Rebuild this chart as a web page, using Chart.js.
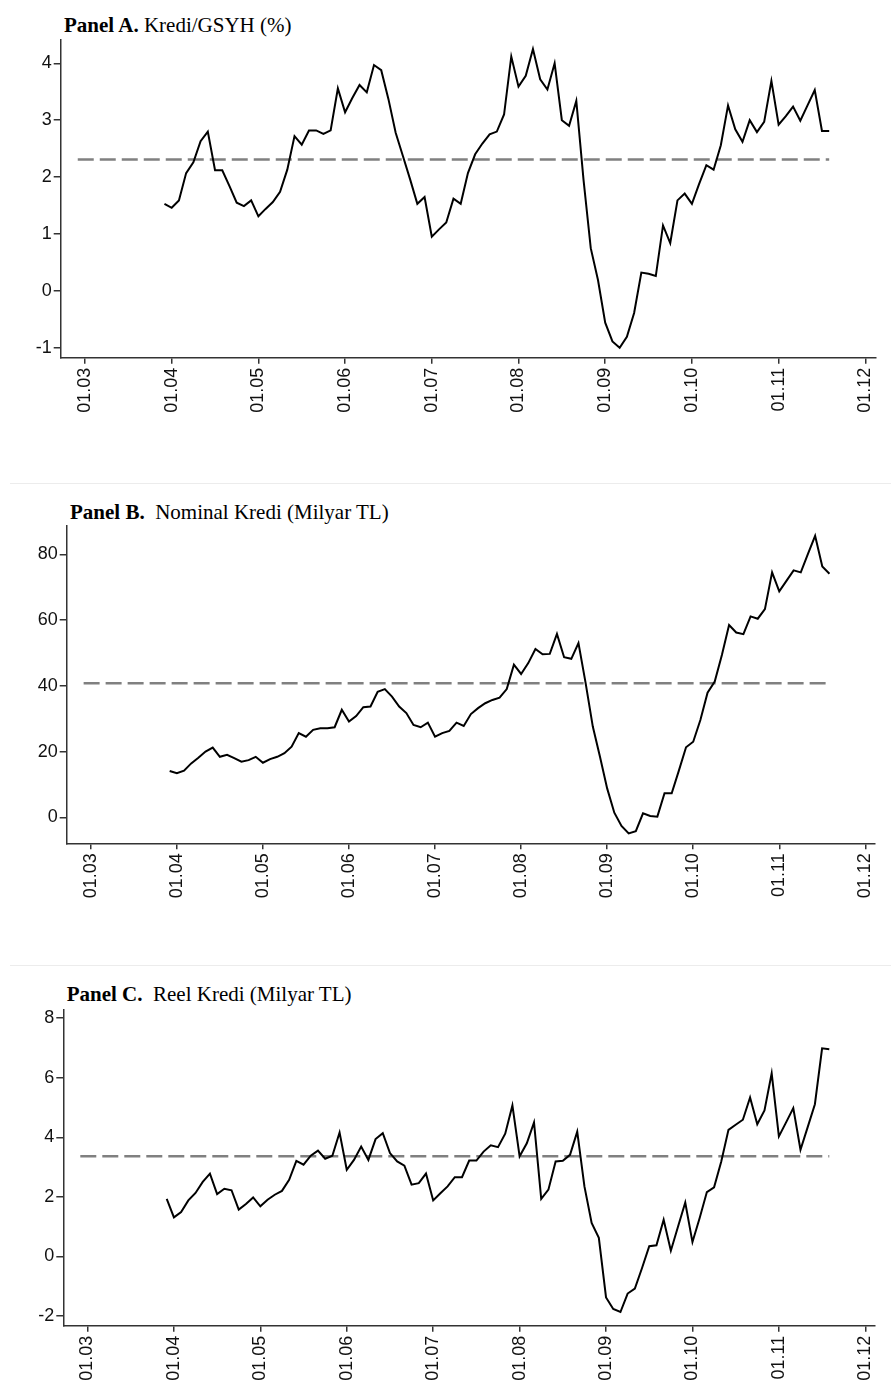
<!DOCTYPE html>
<html>
<head>
<meta charset="utf-8">
<title>Kredi paneli</title>
<script src="https://cdn.jsdelivr.net/npm/chart.js@4.4.1/dist/chart.umd.min.js"></script>
<style>
  html, body { margin: 0; padding: 0; background: #fff; }
  body { width: 891px; height: 1387px; position: relative; overflow: hidden; }
  canvas { position: absolute; left: 0; }
  .title {
    position: absolute;
    font-family: "Liberation Serif", "Times New Roman", serif;
    font-size: 21px;
    line-height: 21px;
    color: #000;
    white-space: pre;
  }
  .sep { position: absolute; left: 10px; right: 0; height: 1px; background: #ececec; }
</style>
</head>
<body>
<div class="title" style="left:64px; top:14.7px;"><b>Panel A.</b> Kredi/GSYH (%)</div>
<div class="sep" style="top:483px;"></div>
<div class="title" style="left:70px; top:501.7px;"><b>Panel B.</b>  Nominal Kredi (Milyar TL)</div>
<div class="sep" style="top:965px;"></div>
<div class="title" style="left:66.7px; top:984.1px;"><b>Panel C.</b>  Reel Kredi (Milyar TL)</div>

<canvas id="chartA" width="891" height="430" style="top:0px;"></canvas>
<canvas id="chartB" width="891" height="430" style="top:485px;"></canvas>
<canvas id="chartC" width="891" height="420" style="top:967px;"></canvas>

<script>
// ------------------------------------------------------------
// Data (monthly, Dec 2003 .. Aug 2011)
// ------------------------------------------------------------
const firstMonth = { year: 2003, month: 12 };
const lastMonth = { year: 2011, month: 8 };

// mean line runs from Dec 2002 to the last observation
const meanFrom = { year: 2002, month: 12 };

const xTickYears = [2003, 2004, 2005, 2006, 2007, 2008, 2009, 2010, 2011, 2012];
const xTickLabels = ["01.03", "01.04", "01.05", "01.06", "01.07", "01.08", "01.09", "01.10", "01.11", "01.12"];

// Panel A – Kredi/GSYH (%)
const krediGsyh = [
  1.53, 1.46, 1.59, 2.07, 2.26, 2.63, 2.80, 2.12, 2.12, 1.84,
  1.55, 1.49, 1.59, 1.31, 1.44, 1.56, 1.74, 2.13, 2.72, 2.57,
  2.82, 2.82, 2.76, 2.82, 3.56, 3.14, 3.39, 3.62, 3.49, 3.97,
  3.88, 3.37, 2.78, 2.37, 1.96, 1.53, 1.65, 0.95, 1.08, 1.20,
  1.62, 1.53, 2.07, 2.40, 2.59, 2.75, 2.80, 3.10, 4.12, 3.59,
  3.78, 4.25, 3.72, 3.54, 4.00, 3.00, 2.90, 3.34, 1.95, 0.75,
  0.19, -0.56, -0.89, -1.00, -0.81, -0.39, 0.32, 0.30, 0.26, 1.15,
  0.84, 1.59, 1.71, 1.53, 1.88, 2.21, 2.13, 2.56, 3.26, 2.84,
  2.62, 3.00, 2.79, 2.97, 3.69, 2.92, 3.07, 3.24, 2.99, 3.26,
  3.53, 2.81, 2.81,
];
const meanA = 2.31;
const yTicksA = [-1, 0, 1, 2, 3, 4];

// Panel B – Nominal Kredi (Milyar TL)
const nominalKredi = [
  14.1, 13.4, 14.2, 16.4, 18.1, 20.0, 21.2, 18.4, 19.0, 18.0,
  16.9, 17.4, 18.4, 16.6, 17.7, 18.4, 19.5, 21.5, 25.6, 24.5,
  26.6, 27.1, 27.1, 27.4, 32.7, 29.1, 30.8, 33.5, 33.7, 38.2,
  39.0, 36.7, 33.7, 31.7, 28.1, 27.4, 28.8, 24.5, 25.6, 26.3,
  28.8, 27.8, 31.4, 33.2, 34.7, 35.7, 36.4, 39.0, 46.4, 43.6,
  46.9, 51.2, 49.6, 49.7, 55.8, 48.7, 48.2, 53.0, 40.8, 27.6,
  18.4, 8.8, 1.4, -2.6, -4.9, -4.2, 1.2, 0.4, 0.2, 7.3,
  7.3, 14.2, 21.3, 23.0, 29.6, 37.9, 41.3, 49.4, 58.5, 56.2,
  55.7, 61.1, 60.4, 63.3, 74.5, 68.7, 71.9, 75.1, 74.5, 80.1,
  85.6, 76.3, 74.1,
];
const meanB = 40.8;
const yTicksB = [0, 20, 40, 60, 80];

// Panel C – Reel Kredi (Milyar TL)
const reelKredi = [
  1.93, 1.31, 1.49, 1.88, 2.13, 2.50, 2.78, 2.09, 2.27, 2.22,
  1.57, 1.76, 1.98, 1.68, 1.90, 2.07, 2.20, 2.57, 3.21, 3.08,
  3.38, 3.55, 3.28, 3.38, 4.16, 2.91, 3.24, 3.69, 3.24, 3.94,
  4.14, 3.47, 3.19, 3.05, 2.41, 2.46, 2.78, 1.88, 2.12, 2.35,
  2.66, 2.66, 3.22, 3.22, 3.52, 3.73, 3.67, 4.12, 5.07, 3.36,
  3.80, 4.50, 1.93, 2.24, 3.19, 3.21, 3.41, 4.19, 2.35, 1.12,
  0.62, -1.38, -1.77, -1.87, -1.25, -1.08, -0.39, 0.34, 0.37, 1.23,
  0.19, 1.00, 1.81, 0.48, 1.29, 2.16, 2.32, 3.19, 4.25, 4.42,
  4.59, 5.34, 4.44, 4.90, 6.15, 4.03, 4.50, 4.98, 3.58, 4.34,
  5.11, 6.99, 6.96,
];
const meanC = 3.36;
const yTicksC = [-2, 0, 2, 4, 6, 8];

// ------------------------------------------------------------
// Helpers
// ------------------------------------------------------------
const toYearPos = (m) => m.year + (m.month - 1) / 12;

// month positions for the series (categories)
const months = [];
for (let y = firstMonth.year, m = firstMonth.month; y < lastMonth.year || (y === lastMonth.year && m <= lastMonth.month); ) {
  months.push({ year: y, month: m });
  m++;
  if (m > 12) { m = 1; y++; }
}

Chart.defaults.font.family = '"Liberation Sans", Arial, sans-serif';
Chart.defaults.color = "#000";

const AXIS_COLOR = "#333";

// layout of each panel in page pixels
const panels = [
  { id: "chartA", top: 0, height: 430, plotLeft: 60.7, plotRight: 885, plotTop: 40, plotBottom: 357.7,
    yMin: -1.176, yMax: 4.41, yTicks: yTicksA, series: krediGsyh, mean: meanA },
  { id: "chartB", top: 485, height: 430, plotLeft: 66.7, plotRight: 885, plotTop: 526, plotBottom: 843.3,
    yMin: -7.9, yMax: 88.6, yTicks: yTicksB, series: nominalKredi, mean: meanB },
  { id: "chartC", top: 967, height: 420, plotLeft: 63.3, plotRight: 883.3, plotTop: 1009.3, plotBottom: 1325.7,
    yMin: -2.33, yMax: 8.30, yTicks: yTicksC, series: reelKredi, mean: meanC },
];

function buildChart(p) {
  const ctx = document.getElementById(p.id).getContext("2d");
  const points = p.series.map((v, i) => ({ x: toYearPos(months[i]), y: v }));
  const meanLine = [
    { x: toYearPos(meanFrom), y: p.mean },
    { x: toYearPos(lastMonth), y: p.mean },
  ];

  return new Chart(ctx, {
    type: "line",
    data: {
      datasets: [
        {
          data: points,
          borderColor: "#000",
          borderWidth: 2,
          pointRadius: 0,
          tension: 0,
          order: 0,
        },
        {
          data: meanLine,
          borderColor: "#808080",
          borderWidth: 2.5,
          borderDash: [16, 6],
          pointRadius: 0,
          order: 1,
        },
      ],
    },
    options: {
      responsive: false,
      animation: false,
      devicePixelRatio: 1,
      layout: {
        padding: { left: 0, right: 891 - p.plotRight, top: p.plotTop - p.top, bottom: 0 },
      },
      plugins: { legend: { display: false }, tooltip: { enabled: false }, title: { display: false } },
      scales: {
        x: {
          type: "linear",
          min: 2002.72,
          max: 2012.115,
          afterBuildTicks: (scale) => { scale.ticks = xTickYears.map((v) => ({ value: v })); },
          afterFit: (scale) => { scale.height = p.top + p.height - p.plotBottom; },
          ticks: {
            autoSkip: false,
            minRotation: 90,
            maxRotation: 90,
            padding: 4,
            font: { size: 18 },
            color: "#111",
            callback: (v, i) => xTickLabels[i],
          },
          grid: { drawOnChartArea: false, drawTicks: true, tickLength: 6, color: AXIS_COLOR, lineWidth: 1.5 },
          border: { display: true, color: AXIS_COLOR, width: 1.5 },
        },
        y: {
          type: "linear",
          min: p.yMin,
          max: p.yMax,
          afterBuildTicks: (scale) => { scale.ticks = p.yTicks.map((v) => ({ value: v })); },
          afterFit: (scale) => { scale.width = p.plotLeft; },
          ticks: { padding: 2, font: { size: 18 }, color: "#111" },
          grid: { drawOnChartArea: false, drawTicks: true, tickLength: 7, color: AXIS_COLOR, lineWidth: 1.5 },
          border: { display: true, color: AXIS_COLOR, width: 1.5 },
        },
      },
    },
  });
}

panels.forEach(buildChart);
</script>
</body>
</html>
